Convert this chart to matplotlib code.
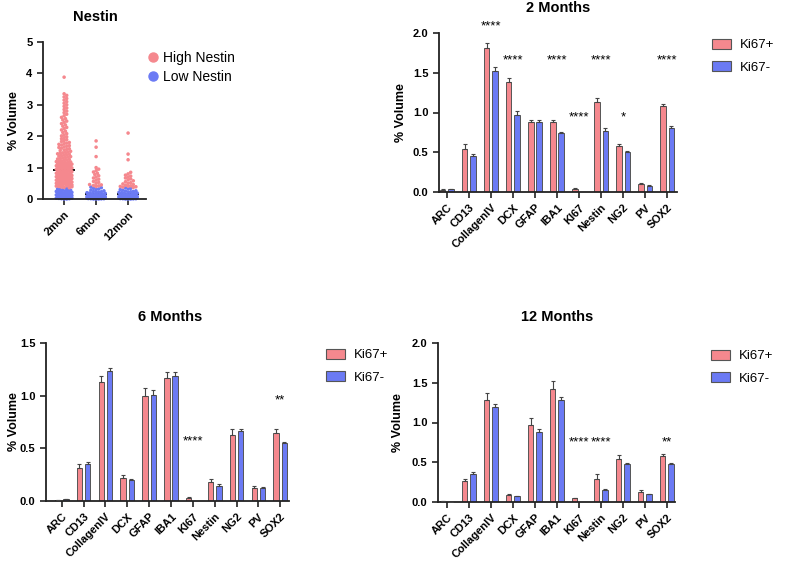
import numpy as np
import matplotlib
matplotlib.use("Agg")
import matplotlib.pyplot as plt
from matplotlib.patches import Patch
from matplotlib.lines import Line2D

plt.rcParams['font.family'] = ['Liberation Sans', 'DejaVu Sans']

W, H = 797, 561
PINK = '#F5888E'
BLUE = '#6B7AF4'
EDGE = '#555555'

# ---------------- data ----------------
nestin_groups = ['2mon', '6mon', '12mon']

nestin_2mon_low = [0.0, 0.0, 0.01, 0.01, 0.02, 0.03, 0.03, 0.04, 0.05, 0.06, 0.06, 0.07, 0.08, 0.09,
                   0.10, 0.10, 0.11, 0.12, 0.13, 0.14, 0.15, 0.15, 0.16, 0.17, 0.18, 0.19, 0.20, 0.20,
                   0.21, 0.22, 0.23, 0.24, 0.25, 0.26, 0.27, 0.28, 0.29, 0.30, 0.32, 0.34]
nestin_2mon_high = [0.36, 0.37, 0.38, 0.39, 0.40, 0.41, 0.42, 0.43, 0.44, 0.45, 0.46, 0.47, 0.48, 0.49,
                    0.50, 0.51, 0.52, 0.53, 0.54, 0.55, 0.56, 0.57, 0.58, 0.59, 0.60, 0.61, 0.62, 0.63,
                    0.64, 0.65, 0.66, 0.67, 0.68, 0.69, 0.70, 0.71, 0.72, 0.73, 0.74, 0.75, 0.76, 0.77,
                    0.78, 0.79, 0.80, 0.81, 0.82, 0.83, 0.84, 0.85, 0.86, 0.87, 0.88, 0.89, 0.90, 0.91,
                    0.92, 0.45, 0.50, 0.55, 0.60, 0.65, 0.70, 0.75, 0.80,
                    0.93, 0.94, 0.95, 0.96, 0.97, 0.98, 0.99, 1.00, 1.01, 1.02, 1.03, 1.04, 1.05, 1.06,
                    1.07, 1.08, 1.09, 1.10, 1.11, 1.12, 1.13, 1.14, 1.15, 1.16, 1.17, 1.18, 1.19, 1.20,
                    0.955, 1.055,
                    1.215, 1.23, 1.245, 1.26, 1.275, 1.29, 1.305, 1.32, 1.335, 1.35, 1.365, 1.38, 1.395,
                    1.41, 1.425, 1.44, 1.455, 1.47, 1.485, 1.50,
                    1.52, 1.54, 1.56, 1.58, 1.60, 1.62, 1.64, 1.66, 1.68, 1.70, 1.72, 1.74, 1.76, 1.78,
                    1.80,
                    1.83, 1.86, 1.89, 1.92, 1.95, 1.98, 2.01, 2.04, 2.08, 2.12, 2.16, 2.20,
                    2.24, 2.28, 2.32, 2.36, 2.40, 2.44, 2.48, 2.52, 2.56, 2.60, 2.65, 2.70, 2.75, 2.80,
                    2.85, 2.90, 2.95, 3.00, 3.05, 3.10, 3.15, 3.20, 3.25, 3.30, 3.35, 3.88]

nestin_6mon_low = [0.0, 0.0, 0.0, 0.005, 0.01, 0.01, 0.015, 0.02, 0.02, 0.025, 0.03, 0.03, 0.035, 0.04,
                   0.04, 0.045, 0.05, 0.05, 0.055, 0.06, 0.06, 0.065, 0.07, 0.07, 0.075, 0.08, 0.08,
                   0.085, 0.09, 0.09, 0.10, 0.10, 0.11, 0.11, 0.12, 0.12, 0.13, 0.14, 0.14, 0.15, 0.16,
                   0.17, 0.18, 0.19, 0.20, 0.21, 0.22, 0.23, 0.24, 0.26, 0.28, 0.30, 0.32, 0.34, 0.36,
                   0.38]
nestin_6mon_high = [0.40, 0.42, 0.43, 0.45, 0.46, 0.50, 0.53, 0.56, 0.60, 0.63, 0.67, 0.70, 0.74, 0.78,
                    0.82, 0.86, 0.90, 0.95, 1.00, 1.35, 1.65, 1.85]

nestin_12mon_low = [0.0, 0.0, 0.0, 0.005, 0.01, 0.01, 0.015, 0.02, 0.02, 0.025, 0.03, 0.03, 0.035, 0.04,
                    0.04, 0.045, 0.05, 0.05, 0.055, 0.06, 0.06, 0.065, 0.07, 0.07, 0.075, 0.08, 0.08,
                    0.085, 0.09, 0.09, 0.10, 0.10, 0.11, 0.11, 0.12, 0.12, 0.13, 0.14, 0.15, 0.16, 0.17,
                    0.18, 0.19, 0.20, 0.21, 0.22, 0.23, 0.24, 0.25, 0.26, 0.28, 0.30, 0.32, 0.34, 0.36]
nestin_12mon_high = [0.37, 0.38, 0.39, 0.40, 0.41, 0.42, 0.44, 0.46, 0.48, 0.50, 0.52, 0.55, 0.58, 0.61,
                     0.64, 0.67, 0.70, 0.73, 0.76, 0.80, 0.85, 1.25, 1.43, 2.10]

markers = ['ARC', 'CD13', 'CollagenIV', 'DCX', 'GFAP', 'IBA1', 'KI67', 'Nestin', 'NG2', 'PV', 'SOX2']

m2_pos = [0.03, 0.535, 1.81, 1.38, 0.88, 0.88, 0.042, 1.13, 0.577, 0.10, 1.08]
m2_pos_sem = [0.005, 0.065, 0.06, 0.06, 0.03, 0.02, 0.008, 0.05, 0.023, 0.01, 0.027]
m2_neg = [0.033, 0.45, 1.52, 0.97, 0.88, 0.737, 0.0, 0.766, 0.50, 0.08, 0.808]
m2_neg_sem = [0.005, 0.03, 0.05, 0.05, 0.03, 0.02, 0.0, 0.034, 0.018, 0.008, 0.017]
m2_stars = [(2, 2.08, '****'), (3, 1.65, '****'), (5, 1.65, '****'), (7, 1.65, '****'),
            (10, 1.65, '****'), (6, 0.935, '****'), (8, 0.935, '*')]

m6_pos = [0.01, 0.31, 1.127, 0.215, 1.0, 1.165, 0.032, 0.177, 0.63, 0.126, 0.647]
m6_pos_sem = [0.004, 0.04, 0.063, 0.028, 0.077, 0.057, 0.006, 0.033, 0.05, 0.014, 0.033]
m6_neg = [0.016, 0.35, 1.235, 0.20, 1.01, 1.19, 0.0, 0.145, 0.66, 0.123, 0.553]
m6_neg_sem = [0.004, 0.02, 0.031, 0.01, 0.04, 0.032, 0.0, 0.013, 0.025, 0.007, 0.007]
m6_stars = [(6, 0.57, '****'), (10, 0.957, '**')]

m12_pos = [0.008, 0.27, 1.28, 0.084, 0.97, 1.42, 0.046, 0.29, 0.54, 0.126, 0.574]
m12_pos_sem = [0.003, 0.02, 0.09, 0.012, 0.09, 0.10, 0.004, 0.062, 0.047, 0.021, 0.03]
m12_neg = [0.004, 0.356, 1.20, 0.071, 0.885, 1.283, 0.0, 0.151, 0.482, 0.10, 0.482]
m12_neg_sem = [0.002, 0.017, 0.033, 0.004, 0.033, 0.034, 0.0, 0.009, 0.013, 0.005, 0.008]
m12_stars = [(6, 0.75, '****'), (7, 0.75, '****'), (10, 0.75, '**')]


# ---------------- helpers ----------------
def axbox(l, t, r, b):
    return [l / W, 1 - b / H, (r - l) / W, (b - t) / H]


def fx(px):
    return px / W


def fy(py):
    return 1 - py / H


def style_axes(ax):
    for s in ['top', 'right']:
        ax.spines[s].set_visible(False)
    for s in ['left', 'bottom']:
        ax.spines[s].set_linewidth(1.3)
        ax.spines[s].set_color('#222222')
    ax.tick_params(axis='both', direction='out', length=4, width=1.2, color='#222222',
                   labelsize=8)
    for lab in ax.get_yticklabels():
        lab.set_fontweight('bold')


def swarm_offsets(vals, ppu_y, dot_px, max_half_px):
    vals = np.asarray(vals, dtype=float)
    order = np.argsort(vals, kind='stable')
    step = dot_px * 0.5
    cands = [0.0]
    k = 1
    while k * step <= max_half_px:
        cands += [k * step, -k * step]
        k += 1
    placed = []
    offs = np.zeros(len(vals))
    for i in order:
        y = vals[i] * ppu_y
        near = [(px, py) for px, py in placed if abs(py - y) < dot_px]
        best = None
        for c in cands:
            if all((c - px) ** 2 + (y - py) ** 2 >= dot_px ** 2 for px, py in near):
                best = c
                break
        if best is None:
            best = max(cands, key=lambda c: min((c - px) ** 2 + (y - py) ** 2 for px, py in near))
        placed.append((best, y))
        offs[i] = best
    return offs


fig = plt.figure(figsize=(W / 100, H / 100), dpi=100)

# ---------------- Nestin swarm ----------------
axn = fig.add_axes(axbox(43, 42, 146, 199))
xlim_n = (-0.66, 2.56)
axn.set_xlim(*xlim_n)
axn.set_ylim(0, 5)
ppu_x = (146 - 43) / (xlim_n[1] - xlim_n[0])
ppu_y = (199 - 42) / 5.0
groups = [(nestin_2mon_low, nestin_2mon_high, 8.0),
          (nestin_6mon_low, nestin_6mon_high, 9.5),
          (nestin_12mon_low, nestin_12mon_high, 9.5)]
for gi, (low, high, mh) in enumerate(groups):
    vals = np.array(list(low) + list(high))
    cols = [BLUE] * len(low) + [PINK] * len(high)
    offs = swarm_offsets(vals, ppu_y, 2.6, mh) / ppu_x
    med = np.median(vals)
    axn.hlines(med, gi - 0.34, gi + 0.34, color='black', lw=1.3, zorder=1)
    axn.scatter(gi + offs, vals, s=6.5, c=cols, linewidths=0, zorder=2, clip_on=False)
axn.set_yticks([0, 1, 2, 3, 4, 5])
axn.set_xticks(range(3))
axn.set_xticklabels(nestin_groups, rotation=45, ha='right', rotation_mode='anchor',
                    fontweight='bold', fontsize=8)
style_axes(axn)
axn.set_ylabel('% Volume', fontsize=9, fontweight='bold')
axn.yaxis.set_label_coords((20 - 43) / 103, 0.5)
fig.text(fx(95), fy(17), 'Nestin', ha='center', va='center', fontsize=10.5, fontweight='bold')
h_leg = [Line2D([], [], marker='o', ls='', color=PINK, markersize=6.5),
         Line2D([], [], marker='o', ls='', color=BLUE, markersize=6.5)]
fig.legend(h_leg, ['High Nestin', 'Low Nestin'], loc='upper left',
           bbox_to_anchor=(fx(146), fy(51)), frameon=False, fontsize=10,
           handlelength=1.0, handletextpad=0.22, labelspacing=0.37, borderpad=0,
           borderaxespad=0)


# ---------------- bar panels ----------------
def bar_panel(box, xlim, pos, pos_sem, neg, neg_sem, ymax, stars, title, title_xy, leg_xy, ylab_px):
    ax = fig.add_axes(axbox(*box))
    x = np.arange(len(markers))
    off, w = 0.19, 0.245
    ax.bar(x - off, pos, w, color=PINK, edgecolor=EDGE, linewidth=0.7, zorder=2)
    ax.bar(x + off, neg, w, color=BLUE, edgecolor=EDGE, linewidth=0.7, zorder=2)
    zeros = np.zeros(len(x))
    ax.errorbar(x - off, pos, yerr=[zeros, pos_sem], fmt='none', ecolor='#444444',
                elinewidth=0.8, capsize=1.6, capthick=0.8, zorder=3)
    nz = np.array(neg) > 0
    ax.errorbar((x + off)[nz], np.array(neg)[nz], yerr=[zeros[nz], np.array(neg_sem)[nz]],
                fmt='none', ecolor='#444444', elinewidth=0.8, capsize=1.6, capthick=0.8, zorder=3)
    for ci, yv, txt in stars:
        ax.text(ci, yv, txt, ha='center', va='center', fontsize=9.5, clip_on=False)
    ax.set_xlim(*xlim)
    ax.set_ylim(0, ymax)
    yt = np.arange(0, ymax + 0.01, 0.5)
    ax.set_yticks(yt)
    ax.set_yticklabels([f'{v:.1f}' for v in yt])
    ax.set_xticks(x)
    ax.set_xticklabels(markers, rotation=45, ha='right', rotation_mode='anchor',
                       fontweight='bold', fontsize=8)
    style_axes(ax)
    ax.set_ylabel('% Volume', fontsize=9, fontweight='bold')
    ax.yaxis.set_label_coords((ylab_px - box[0]) / (box[2] - box[0]), 0.5)
    fig.text(fx(title_xy[0]), fy(title_xy[1]), title, ha='center', va='center',
             fontsize=10.5, fontweight='bold')
    handles = [Patch(facecolor=PINK, edgecolor=EDGE, linewidth=0.8),
               Patch(facecolor=BLUE, edgecolor=EDGE, linewidth=0.8)]
    fig.legend(handles, ['Ki67+', 'Ki67-'], loc='upper left',
               bbox_to_anchor=(fx(leg_xy[0]), fy(leg_xy[1])), frameon=False, fontsize=9.5,
               handlelength=1.45, handleheight=0.8, handletextpad=0.7, labelspacing=0.75,
               borderpad=0, borderaxespad=0)
    return ax


bar_panel((439, 33, 677, 192), (-0.36, 10.45), m2_pos, m2_pos_sem, m2_neg, m2_neg_sem, 2.0,
          m2_stars, '2 Months', (558, 8), (712, 38.6), 407)
bar_panel((46, 343, 289, 501), (-0.72, 10.4), m6_pos, m6_pos_sem, m6_neg, m6_neg_sem, 1.5,
          m6_stars, '6 Months', (170, 317), (326, 348.5), 20)
bar_panel((438, 343, 675, 502), (-0.4, 10.37), m12_pos, m12_pos_sem, m12_neg, m12_neg_sem, 2.0,
          m12_stars, '12 Months', (557, 317), (711, 349.6), 404)

fig.savefig('out.png', dpi=100)
